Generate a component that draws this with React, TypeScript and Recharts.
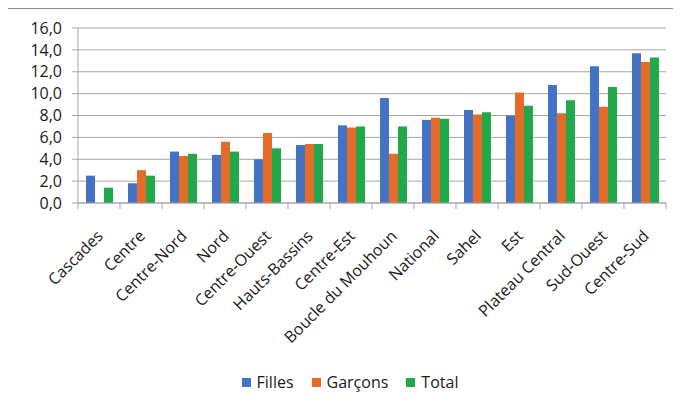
import React from "react";
import { BarChart, Bar, XAxis, YAxis, CartesianGrid, Legend } from "recharts";

const categories = [
  "Cascades", "Centre", "Centre-Nord", "Nord", "Centre-Ouest", "Hauts-Bassins", "Centre-Est",
  "Boucle du Mouhoun", "National", "Sahel", "Est", "Plateau Central", "Sud-Ouest", "Centre-Sud",
];
const filles = [2.5, 1.8, 4.7, 4.4, 4.0, 5.3, 7.1, 9.6, 7.6, 8.5, 8.0, 10.8, 12.5, 13.7];
const garcons = [0, 3.0, 4.3, 5.6, 6.4, 5.4, 6.9, 4.5, 7.8, 8.1, 10.1, 8.2, 8.8, 12.9];
const total = [1.4, 2.5, 4.5, 4.7, 5.0, 5.4, 7.0, 7.0, 7.7, 8.3, 8.9, 9.4, 10.6, 13.3];
const yTicks = [0, 2, 4, 6, 8, 10, 12, 14, 16];

const seriesNames = ["Filles", "Garçons", "Total"];
const colors = ["#4472C4", "#E46C28", "#21A84A"];

const data = categories.map((c, i) => ({
  name: c,
  Filles: filles[i],
  "Garçons": garcons[i],
  Total: total[i],
}));

const FONT = "'Open Sans', sans-serif";

const XTick = (props: any) => {
  const { x, y, payload, index } = props;
  const half = 21;
  const tx = x + 5;
  const ty = y + 34;
  return (
    <g>
      <line x1={x - half} y1={y} x2={x - half} y2={y + 6} stroke="#A6A6A6" />
      {index === categories.length - 1 && (
        <line x1={x + half} y1={y} x2={x + half} y2={y + 6} stroke="#A6A6A6" />
      )}
      <text
        x={tx}
        y={ty}
        textAnchor="end"
        transform={`rotate(-45, ${tx}, ${ty})`}
        fontFamily={FONT}
        fontSize={16}
        fill="#1a1a1a"
      >
        {payload.value}
      </text>
    </g>
  );
};

const LegendContent = () => (
  <div
    style={{
      display: "flex",
      justifyContent: "center",
      alignItems: "center",
      fontFamily: FONT,
      fontSize: 16,
      color: "#1a1a1a",
    }}
  >
    {seriesNames.map((n, i) => (
      <div key={n} style={{ display: "flex", alignItems: "center", marginRight: i < 2 ? 18 : 0 }}>
        <span style={{ width: 9, height: 9, background: colors[i], display: "inline-block", marginRight: 6 }} />
        <span>{n}</span>
      </div>
    ))}
  </div>
);

export default function App() {
  return (
    <div style={{ position: "relative", width: 665, height: 390 }}>
      <div
        style={{
          position: "absolute",
          left: -2,
          top: -1,
          width: 673,
          height: 395,
          borderLeft: "2px solid #8a8a8a",
          borderTop: "2px solid #8a8a8a",
          borderBottom: "1px solid #e4e4e4",
          boxSizing: "border-box",
        }}
      />
      <div style={{ position: "absolute", left: -8, top: -8 }}>
        <BarChart
          width={681}
          height={406}
          data={data}
          margin={{ top: 28, right: 15, left: 0, bottom: 0 }}
          barCategoryGap="19%"
          barGap={0}
        >
          <CartesianGrid horizontal vertical={false} stroke="#A6A6A6" />
          <XAxis
            dataKey="name"
            interval={0}
            height={203}
            tickSize={0}
            tickMargin={0}
            tickLine={false}
            axisLine={{ stroke: "#A6A6A6" }}
            tick={<XTick />}
          />
          <YAxis
            width={78}
            domain={[0, 16]}
            ticks={yTicks}
            interval={0}
            tickSize={6}
            tickMargin={10}
            tickLine={{ stroke: "#A6A6A6" }}
            axisLine={{ stroke: "#A6A6A6" }}
            tickFormatter={(v: number) => v.toFixed(1).replace(".", ",")}
            tick={{ fontFamily: FONT, fontSize: 16, fill: "#1a1a1a" }}
          />
          <Legend
            verticalAlign="middle"
            layout="horizontal"
            content={<LegendContent />}
            wrapperStyle={{ top: 371, left: 0, width: 700 }}
          />
          {seriesNames.map((n, i) => (
            <Bar key={n} dataKey={n} fill={colors[i]} isAnimationActive={false} />
          ))}
        </BarChart>
      </div>
    </div>
  );
}
